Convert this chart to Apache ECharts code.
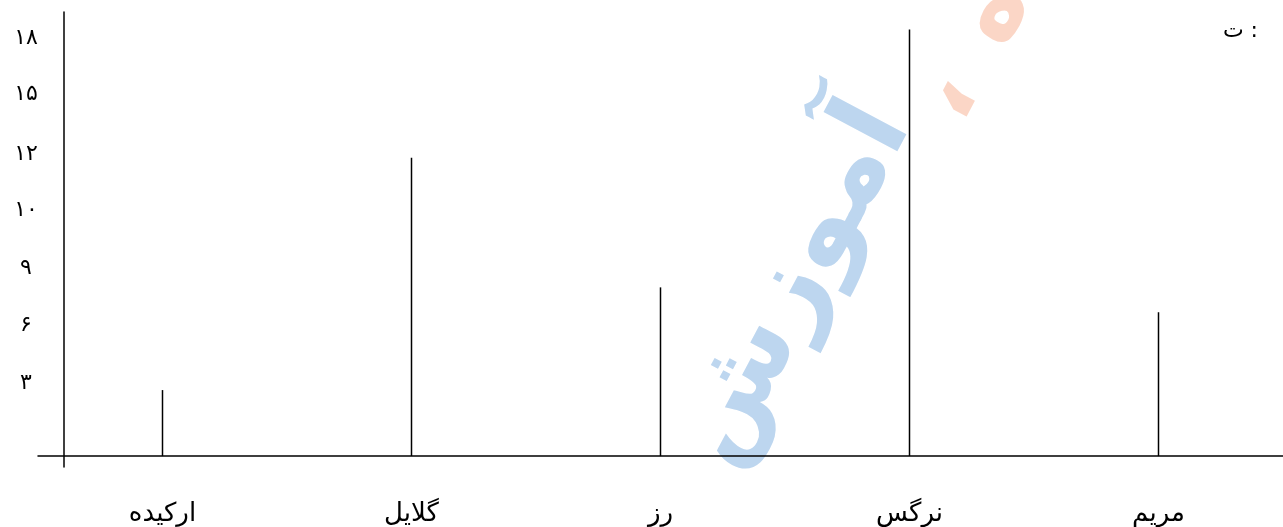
<!DOCTYPE html>
<html>
<head>
<meta charset="utf-8">
<script src="https://cdn.jsdelivr.net/npm/echarts@6/dist/echarts.min.js"></script>
<style>
html,body{margin:0;padding:0;background:#fff;}
#chart{width:1283px;height:527px;}
</style>
</head>
<body>
<div id="chart"></div>
<script>
// categories (flowers)
var categories = ['ارکیده', 'گلایل', 'رز', 'نرگس', 'مریم'];
// stem heights (in the axis' units, label "۱۸" = 18)
var values = [2.84, 12.84, 7.26, 18.36, 6.19];
// y tick labels as written on the sheet and where they sit on the axis
var yTickLabels = ['۳', '۶', '۹', '۱۰', '۱۲', '۱۵', '۱۸'];
var yTickPos = [3.14, 5.63, 8.08, 10.57, 12.97, 15.55, 18];

var chart = echarts.init(document.getElementById('chart'), null, {renderer: 'canvas'});
var FONT = 'DejaVu Sans';
var ROT = 62 * Math.PI / 180;

chart.setOption({
  animation: false,
  backgroundColor: '#ffffff',
  grid: {left: 38, right: -6, top: 12, bottom: 59, containLabel: false},
  xAxis: {
    type: 'category',
    data: categories,
    axisLine: {show: true, onZero: true, lineStyle: {color: '#000', width: 1.5}},
    axisTick: {show: false},
    splitLine: {show: false},
    axisLabel: {color: '#000', fontSize: 26, fontFamily: FONT, margin: 34, interval: 0}
  },
  yAxis: {
    type: 'value',
    min: -0.47,
    max: 19.11,
    offset: -26,
    axisLine: {show: true, lineStyle: {color: '#000', width: 1.5}},
    axisTick: {show: false},
    splitLine: {show: false},
    axisLabel: {
      customValues: yTickPos,
      color: '#000',
      fontSize: 22,
      fontFamily: FONT,
      margin: 38,
      align: 'center',
      formatter: function (v) {
        for (var i = 0; i < yTickPos.length; i++) {
          if (Math.abs(yTickPos[i] - v) < 1e-6) return yTickLabels[i];
        }
        return '';
      }
    }
  },
  graphic: [
    {
      type: 'text', z: -10,
      x: 794, y: 285, rotation: ROT,
      style: {text: 'آموزش', font: 'bold 110px ' + FONT, fill: '#bdd6ef', align: 'center', verticalAlign: 'middle'}
    },
    {
      type: 'text', z: -10,
      x: 994, y: 12, rotation: ROT,
      style: {text: 'ه', font: 'bold 100px ' + FONT, fill: '#fbd6c6', align: 'center', verticalAlign: 'middle'}
    },
    {
      type: 'text', z: -10,
      x: 948, y: 96, rotation: ROT,
      style: {text: '،', font: 'bold 100px ' + FONT, fill: '#fbd6c6', align: 'center', verticalAlign: 'middle'}
    },
    {
      type: 'text',
      x: 1258, y: 31,
      style: {text: 'ت :', font: '22px ' + FONT, fill: '#000', align: 'right', verticalAlign: 'middle'}
    }
  ],
  series: [{
    type: 'bar',
    data: values,
    barWidth: 1.5,
    itemStyle: {color: '#000'},
    silent: true
  }]
});
</script>
</body>
</html>
